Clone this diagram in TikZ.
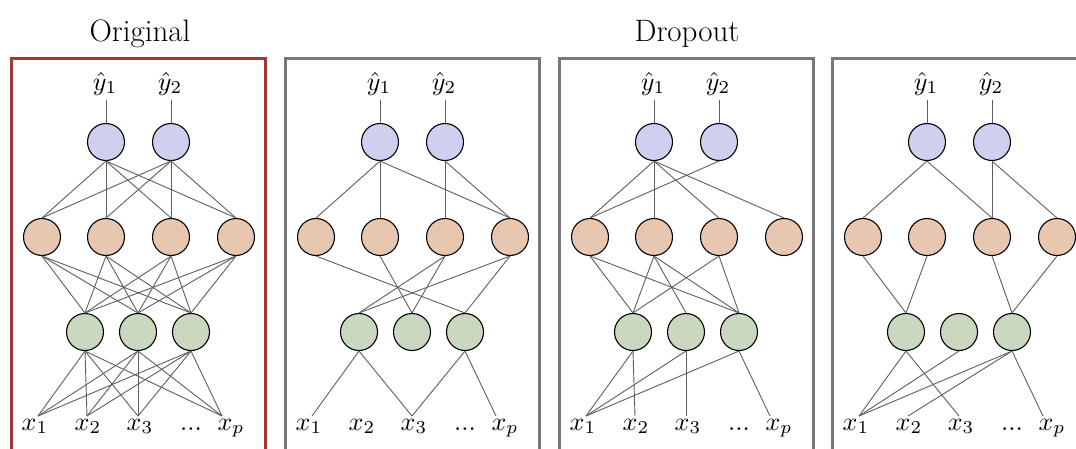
\documentclass[tikz,border=0pt]{standalone}
\usepackage{fontspec}
\usepackage{tikz}
\usetikzlibrary{positioning,calc}
\definecolor{outc}{HTML}{CFCFF0}
\definecolor{hidc}{HTML}{E8C7B1}
\definecolor{inc}{HTML}{C9D8BF}
\definecolor{wirec}{HTML}{5E5E5E}
\definecolor{origc}{HTML}{A23838}
\definecolor{dropc}{HTML}{787878}

\begin{document}
\begin{tikzpicture}[x=1pt, y=-1pt,
  unit/.style={circle, draw=black, line width=1.1pt, minimum size=37pt, inner sep=0pt},
  outn/.style={unit, fill=outc},
  hidn/.style={unit, fill=hidc},
  inn/.style={unit, fill=inc},
  wire/.style={draw=wirec, line width=0.9pt},
  panel/.style={line width=3pt},
  lab/.style={inner sep=0pt, anchor=base, scale=2.6, transform shape},
  head/.style={font=\fontsize{31}{34}\selectfont, inner sep=0pt, anchor=base}
]
\useasboundingbox (0,0) rectangle (1076,448);

% titles
\node[head] (orig) at (140,41) {Original};
\node[head] (drop) at (687,41) {Dropout};

% four copies of the same network, one per panel
\foreach \p/\dx/\bc in {1/0/origc, 2/274/dropc, 3/548/dropc, 4/821/dropc}{
\begin{scope}[shift={(\dx,0)}]
  \draw[panel, draw=\bc] (11.5,58) rectangle (265.5,470);
  \node[lab] (yl-\p-1) at (105,90) {$\hat y_1$};
  \node[lab] (yl-\p-2) at (170,90) {$\hat y_2$};
  \node[outn] (o-\p-1) at (106,142) {};
  \node[outn] (o-\p-2) at (171,142) {};
  \node[hidn] (h-\p-1) at (42,237) {};
  \node[hidn] (h-\p-2) at (106,237) {};
  \node[hidn] (h-\p-3) at (171,237) {};
  \node[hidn] (h-\p-4) at (236,237) {};
  \node[inn] (g-\p-1) at (85,332) {};
  \node[inn] (g-\p-2) at (138,332) {};
  \node[inn] (g-\p-3) at (191,332) {};
  \coordinate (in-\p-1) at (38,416);
  \coordinate (in-\p-2) at (87,416);
  \coordinate (in-\p-3) at (138,416);
  \coordinate (in-\p-4) at (222,416);
  \node[lab] (xl-\p-1) at (35,430) {$x_1$};
  \node[lab] (xl-\p-2) at (88,430) {$x_2$};
  \node[lab] (xl-\p-3) at (140,430) {$x_3$};
  \node[lab] (xl-\p-d) at (191,430) {...};
  \node[lab] (xl-\p-4) at (231,430) {$x_p$};
  \draw[wire, shorten >=4pt] (o-\p-1.north) -- (o-\p-1.north |- yl-\p-1.south);
  \draw[wire, shorten >=4pt] (o-\p-2.north) -- (o-\p-2.north |- yl-\p-2.south);
\end{scope}}

% original: fully connected
\foreach \a in {1,2}{\foreach \b in {1,...,4}{
  \draw[wire] (o-1-\a.south) -- (h-1-\b.north);}}
\foreach \a in {1,...,4}{\foreach \b in {1,2,3}{
  \draw[wire] (h-1-\a.south) -- (g-1-\b.north);}}
\foreach \a in {1,2,3}{\foreach \b in {1,...,4}{
  \draw[wire] (g-1-\a.south) -- (in-1-\b);}}

% dropout 1
\foreach \a/\b in {1/1,1/2,1/4,2/3,2/4}{\draw[wire] (o-2-\a.south) -- (h-2-\b.north);}
\foreach \a/\b in {1/3,2/2,3/1,3/2,4/1,4/3}{\draw[wire] (h-2-\a.south) -- (g-2-\b.north);}
\foreach \a/\b in {1/1,1/3,3/3,3/4}{\draw[wire] (g-2-\a.south) -- (in-2-\b);}

% dropout 2
\foreach \a/\b in {1/1,1/2,1/3,1/4,2/1}{\draw[wire] (o-3-\a.south) -- (h-3-\b.north);}
\foreach \a/\b in {1/1,1/3,2/1,2/2,2/3,3/1,3/3}{\draw[wire] (h-3-\a.south) -- (g-3-\b.north);}
\foreach \a/\b in {1/1,1/2,2/1,2/3,3/1,3/4}{\draw[wire] (g-3-\a.south) -- (in-3-\b);}

% dropout 3
\foreach \a/\b in {1/1,1/3,2/3,2/4}{\draw[wire] (o-4-\a.south) -- (h-4-\b.north);}
\foreach \a/\b in {1/1,2/1,3/3,4/3}{\draw[wire] (h-4-\a.south) -- (g-4-\b.north);}
\foreach \a/\b in {1/1,1/3,2/1,3/1,3/2,3/4}{\draw[wire] (g-4-\a.south) -- (in-4-\b);}
\end{tikzpicture}
\end{document}
